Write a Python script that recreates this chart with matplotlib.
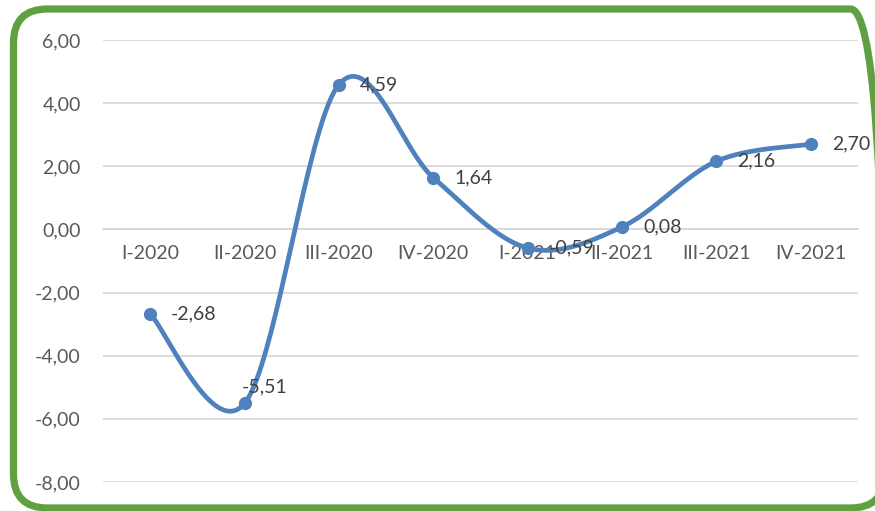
import numpy as np
import matplotlib
matplotlib.use("Agg")
import matplotlib.pyplot as plt
from matplotlib.patches import FancyBboxPatch
from matplotlib.transforms import IdentityTransform

plt.rcParams['font.family'] = ['Lato', 'DejaVu Sans']

quarters = ["I-2020", "II-2020", "III-2020", "IV-2020",
            "I-2021", "II-2021", "III-2021", "IV-2021"]
values = [-2.68, -5.51, 4.59, 1.64, -0.59, 0.08, 2.16, 2.70]
yticks = [-8, -6, -4, -2, 0, 2, 4, 6]

line_col = '#4F81BD'
grid_col = '#D9D9D9'


def smooth(x, y, n=40):
    # excel-like smoothing: bezier segments with catmull-rom control points
    p = np.column_stack([x, y]).astype(float)
    pp = np.vstack([p[0], p, p[-1]])
    out = []
    for i in range(len(p) - 1):
        p0, p3 = pp[i + 1], pp[i + 2]
        c1 = p0 + (pp[i + 2] - pp[i]) / 6.0
        c2 = p3 - (pp[i + 3] - pp[i + 1]) / 6.0
        t = np.linspace(0, 1, n)[:, None]
        seg = ((1 - t) ** 3) * p0 + 3 * ((1 - t) ** 2) * t * c1 \
            + 3 * (1 - t) * t ** 2 * c2 + t ** 3 * p3
        out.append(seg)
    s = np.vstack(out)
    return s[:, 0], s[:, 1]


fig = plt.figure(figsize=(8.75, 5.11), dpi=100)

# green rounded frame in display pixels (origin bottom-left)
frame = FancyBboxPatch((13.5, 3), 871, 499,
                       boxstyle="round,pad=0,rounding_size=34",
                       fill=False, edgecolor='#60A040', linewidth=5.2,
                       transform=IdentityTransform(), zorder=10)
fig.patches.append(frame)

ax = fig.add_axes([103 / 875, 1 - 482 / 511, 755 / 875, 442 / 511])

x = np.arange(len(values))
sx, sy = smooth(x, values)
ax.plot(sx, sy, color=line_col, lw=3.4, solid_capstyle='round', zorder=3)
ax.plot(x, values, 'o', color=line_col, ms=8.5, zorder=4)

offsets = {1: (-2, 12)}
for i, v in enumerate(values):
    dx, dy = offsets.get(i, (15, 0))
    ax.annotate(f"{v:.2f}".replace('.', ','), (i, v), xytext=(dx, dy),
                textcoords='offset points', ha='left', va='center',
                fontsize=14, color='#404040', zorder=5)

ax.set_xlim(-0.5, 7.5)
ax.set_ylim(-8, 6)
ax.set_yticks(yticks)
ax.set_yticklabels([f"{t:.2f}".replace('.', ',') for t in yticks])
ax.set_xticks(x)
ax.set_xticklabels(quarters)
ax.grid(axis='y', color=grid_col, lw=1.3)
ax.set_axisbelow(True)

for s in ['top', 'right', 'left']:
    ax.spines[s].set_visible(False)
ax.spines['bottom'].set_position(('data', 0))
ax.spines['bottom'].set_color(grid_col)
ax.spines['bottom'].set_linewidth(1.3)
ax.tick_params(axis='y', length=0, pad=16, labelsize=14, labelcolor='#595959')
ax.tick_params(axis='x', length=0, pad=11, labelsize=14, labelcolor='#595959')

fig.savefig("out.png", dpi=100)
